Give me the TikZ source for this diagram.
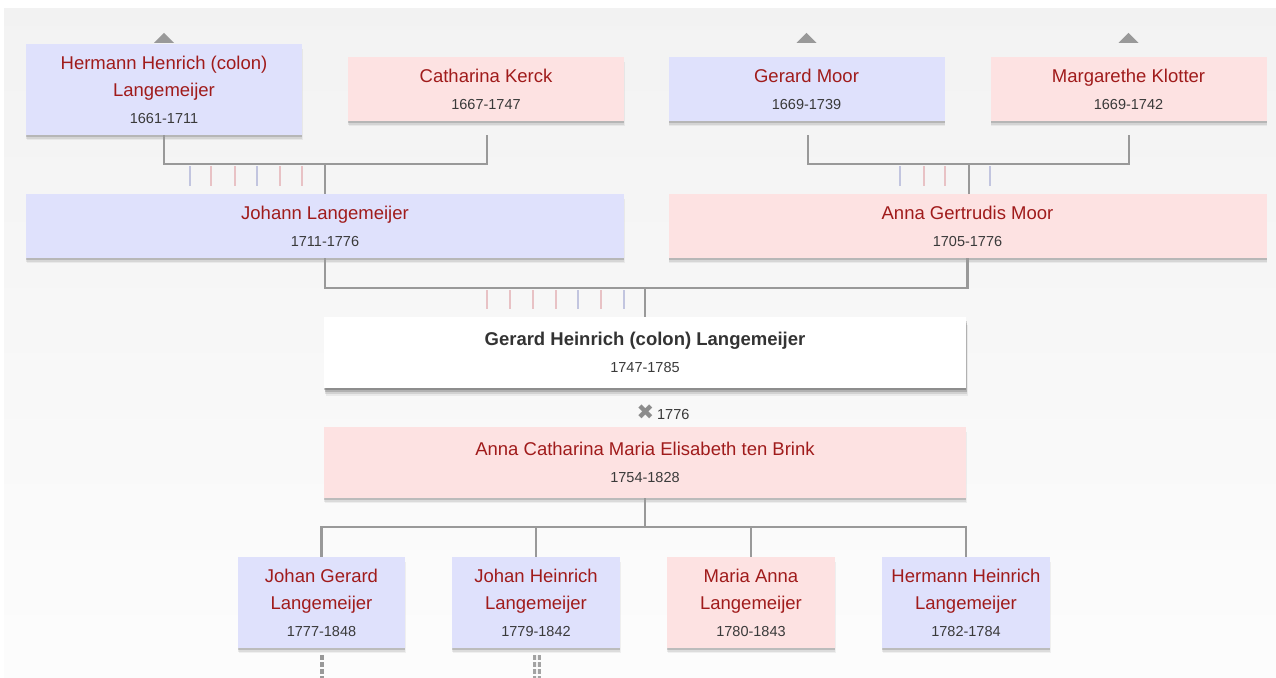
\documentclass[tikz,border=0pt]{standalone}
\usepackage{fontspec}
\setmainfont{Liberation Sans}
\newfontfamily\symfont{DejaVu Sans}
\usetikzlibrary{calc,shadows}

\definecolor{manfill}{HTML}{DFE1FC}
\definecolor{womanfill}{HTML}{FDE2E2}
\definecolor{namered}{HTML}{A01B1B}
\definecolor{yeargray}{HTML}{3A3A3A}
\definecolor{linegray}{HTML}{999999}
\definecolor{tickblue}{HTML}{C2C5DF}
\definecolor{tickpink}{HTML}{E8C2C5}

\newcommand{\nm}{\fontsize{18.5}{27}\selectfont\color{namered}}
\newcommand{\yr}{\fontsize{14.5}{27}\selectfont\color{yeargray}}

\tikzset{
	person/.style={rectangle, inner sep=0pt, align=center, font=\nm,
		general shadow={fill=black, opacity=0.05, shadow yshift=-5pt, shadow xshift=0.5pt},
		general shadow={fill=black, opacity=0.08, shadow yshift=-3.5pt},
		general shadow={fill=black, opacity=0.14, shadow yshift=-2pt}},
	man/.style={person, fill=manfill},
	woman/.style={person, fill=womanfill},
	famline/.style={draw=linegray, line width=2.5pt},
	famtick/.style={line width=2pt},
	uparrow/.style={fill=linegray},
}

\begin{document}
\begin{tikzpicture}[x=1pt, y=-1pt]
		%%%%% START %%%%%
		\useasboundingbox (0,0) rectangle (1276,677);
		\fill[white] (0,0) rectangle (1276,677);
		\shade[top color=black!5, bottom color=black!1] (4,9) rectangle (1276,677);
		
		% grandparents
		\node[man, minimum width=276pt, minimum height=91pt] (hermann) at (164,89.5) {Hermann Henrich (colon)\\Langemeijer\\\yr 1661-1711};
		\node[woman, minimum width=276pt, minimum height=64pt] (kerck) at (486,89) {Catharina Kerck\\\yr 1667-1747};
		\node[man, minimum width=276pt, minimum height=64pt] (gmoor) at (806.5,89) {Gerard Moor\\\yr 1669-1739};
		\node[woman, minimum width=276pt, minimum height=64pt] (klotter) at (1128.5,89) {Margarethe Klotter\\\yr 1669-1742};
		
		\fill[uparrow] ($(hermann.north)+(0,-11)$) -- ++(10,10) -- ++(-20,0) -- cycle;
		\fill[uparrow] ($(gmoor.north)+(0,-24)$) -- ++(10,10) -- ++(-20,0) -- cycle;
		\fill[uparrow] ($(klotter.north)+(0,-24)$) -- ++(10,10) -- ++(-20,0) -- cycle;
		
		% parents
		\node[man, minimum width=598pt, minimum height=64pt] (johann) at (325,226) {Johann Langemeijer\\\yr 1711-1776};
		\node[woman, minimum width=598pt, minimum height=64pt] (gertrudis) at (967.5,226) {Anna Gertrudis Moor\\\yr 1705-1776};
		
		\coordinate (kerckfoot) at (487,135);
		\coordinate (gmoorfoot) at (808,135);
		\coordinate (klotterfoot) at (1129,135);
		\draw[famline] (hermann.south) -- ++(0,29) -| (kerckfoot);
		\draw[famline] (johann.north) -- ++(0,-30);
		\draw[famline] (gmoorfoot) -- ++(0,29) -| (klotterfoot);
		\draw[famline] (969,194) -- (969,164);
		
		\foreach \x/\c in {190/tickblue, 211/tickpink, 235/tickpink, 257/tickblue, 280/tickpink, 302/tickpink,
			900/tickblue, 924/tickpink, 945/tickpink, 990/tickblue}
			\draw[famtick, \c] (\x,166) -- (\x,186);
		
		% main person and spouse
		\node[rectangle, inner sep=0pt, align=center, fill=white, minimum width=642pt, minimum height=71pt,
			font=\nm\color{black!80}\bfseries,
			general shadow={fill=black, opacity=0.06, shadow yshift=-8pt, shadow xshift=1.5pt},
			general shadow={fill=black, opacity=0.1, shadow yshift=-6pt, shadow xshift=1pt},
			general shadow={fill=black, opacity=0.15, shadow yshift=-4pt, shadow xshift=0.5pt},
			general shadow={fill=black, opacity=0.2, shadow yshift=-2pt}] (gerard) at (645,352.5) {Gerard Heinrich (colon) Langemeijer\\\yr\mdseries 1747-1785};
		\node[woman, minimum width=642pt, minimum height=71pt] (brink) at (645,462.5) {Anna Catharina Maria Elisabeth ten Brink\\\yr 1754-1828};
		\node[font=\yr, anchor=west] (marriage) at (633,412.5) {{\symfont\color{black!45}\fontsize{21}{21}\selectfont ✖}\hspace{3pt}1776};
		
		\draw[famline] (johann.south) -- ++(0,30) -| (gertrudis.south);
		\draw[famline] (gerard.north) -- ++(0,-29);
		
		\foreach \x/\c in {487/tickpink, 510/tickpink, 533/tickpink, 556/tickpink, 578/tickblue, 601/tickpink, 624/tickblue}
			\draw[famtick, \c] (\x,290) -- (\x,309);
		
		% children
		\node[man, minimum width=167pt, minimum height=91pt] (jgerard) at (321.5,602.5) {Johan Gerard\\Langemeijer\\\yr 1777-1848};
		\node[man, minimum width=168pt, minimum height=91pt] (jheinrich) at (536,602.5) {Johan Heinrich\\Langemeijer\\\yr 1779-1842};
		\node[woman, minimum width=168pt, minimum height=91pt] (manna) at (751,602.5) {Maria Anna\\Langemeijer\\\yr 1780-1843};
		\node[man, minimum width=168pt, minimum height=91pt] (hheinrich) at (966,602.5) {Hermann Heinrich\\Langemeijer\\\yr 1782-1784};
		
		\draw[famline] (brink.south) -- ++(0,29) coordinate (kidbar);
		\foreach \k in {jgerard, jheinrich, manna, hheinrich}
			\draw[famline] (kidbar) -| (\k.north);
		
		\draw[linegray, line width=3.5pt, dash pattern=on 5pt off 2pt] ($(jgerard.south)+(0.5,7)$) -- ++(0,25);
		\draw[linegray!90, line width=3.5pt, double=white!85!linegray, double distance=1.5pt, dash pattern=on 5pt off 2pt] ($(jheinrich.south)+(1,7)$) -- ++(0,25);
		
		%%%%% END %%%%%
	\end{tikzpicture}
\end{document}
